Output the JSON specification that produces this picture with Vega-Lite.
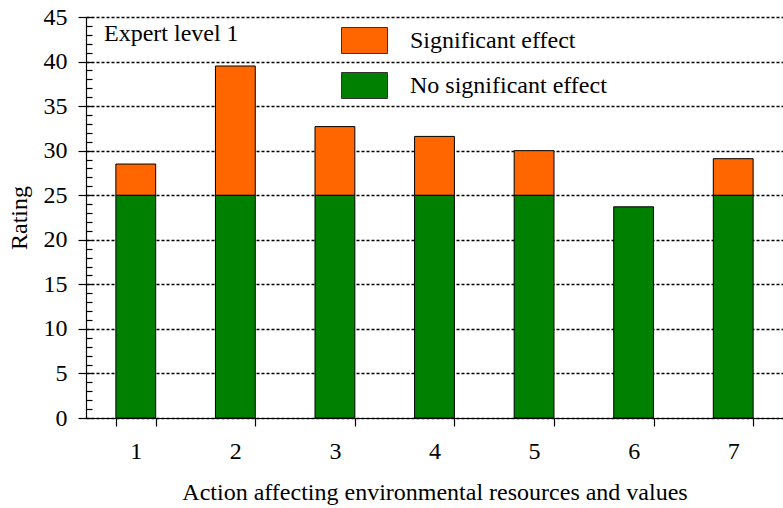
{
  "$schema": "https://vega.github.io/schema/vega-lite/v6.json",
  "width": 697,
  "height": 401,
  "autosize": {"type": "none"},
  "padding": {"left": 86, "top": 17, "right": 0, "bottom": 90},
  "background": "white",
  "title": {"text": "Expert level 1", "anchor": "start", "frame": "group", "orient": "top", "baseline": "top", "offset": 0, "dx": 18, "dy": 41, "font": "Liberation Serif", "fontSize": 24, "fontWeight": "normal", "color": "black"},
  "config": {
    "font": "Liberation Serif",
    "view": {"stroke": null},
    "legend": {"labelFont": "Liberation Serif", "labelFontSize": 24}
  },
  "data": {"values": [
    {"action": "1", "effect": "No significant effect", "value": 25, "ord": 0},
    {"action": "1", "effect": "Significant effect", "value": 3.5, "ord": 1},
    {"action": "2", "effect": "No significant effect", "value": 25, "ord": 0},
    {"action": "2", "effect": "Significant effect", "value": 14.5, "ord": 1},
    {"action": "3", "effect": "No significant effect", "value": 25, "ord": 0},
    {"action": "3", "effect": "Significant effect", "value": 7.7, "ord": 1},
    {"action": "4", "effect": "No significant effect", "value": 25, "ord": 0},
    {"action": "4", "effect": "Significant effect", "value": 6.6, "ord": 1},
    {"action": "5", "effect": "No significant effect", "value": 25, "ord": 0},
    {"action": "5", "effect": "Significant effect", "value": 5.0, "ord": 1},
    {"action": "6", "effect": "No significant effect", "value": 23.7, "ord": 0},
    {"action": "7", "effect": "No significant effect", "value": 25, "ord": 0},
    {"action": "7", "effect": "Significant effect", "value": 4.1, "ord": 1}
  ]},
  "resolve": {"axis": {"y": "independent"}},
  "layer": [
    {
      "mark": {"type": "bar", "opacity": 0},
      "encoding": {
        "x": {"field": "action", "type": "ordinal", "scale": {"paddingInner": 0.6, "paddingOuter": 0.3},
              "axis": {"title": "Action affecting environmental resources and values", "labelAngle": 0, "tickBand": "extent", "tickSize": 8, "labelPadding": 13, "titlePadding": 17, "grid": false, "labelFont": "Liberation Serif", "labelFontSize": 24, "titleFont": "Liberation Serif", "titleFontSize": 24, "titleFontWeight": "normal", "labelColor": "black", "titleColor": "black", "domainColor": "black", "tickColor": "black", "domainWidth": 1.2, "tickWidth": 1.2}},
        "y": {"field": "value", "type": "quantitative", "aggregate": "sum", "stack": "zero", "scale": {"domain": [0, 45], "nice": false},
              "axis": {"orient": "left", "values": [0,1,2,3,4,5,6,7,8,9,10,11,12,13,14,15,16,17,18,19,20,21,22,23,24,25,26,27,28,29,30,31,32,33,34,35,36,37,38,39,40,41,42,43,44,45], "labels": false, "tickSize": -6, "domain": false, "grid": false, "title": null, "tickColor": "black", "tickWidth": 1.2}},
        "order": {"field": "ord"}
      }
    },
    {
      "mark": {"type": "bar", "stroke": "black", "strokeWidth": 1},
      "encoding": {
        "x": {"field": "action", "type": "ordinal", "scale": {"paddingInner": 0.6, "paddingOuter": 0.3}},
        "y": {"field": "value", "type": "quantitative", "aggregate": "sum", "stack": "zero", "scale": {"domain": [0, 45], "nice": false},
              "axis": {"orient": "left", "title": "Rating", "values": [0,5,10,15,20,25,30,35,40,45], "tickSize": 8, "labelPadding": 11, "titlePadding": 12, "grid": true, "gridColor": "black", "gridDash": [3, 2], "gridWidth": 1.6, "labelFont": "Liberation Serif", "labelFontSize": 24, "titleFont": "Liberation Serif", "titleFontSize": 24, "titleFontWeight": "normal", "labelColor": "black", "titleColor": "black", "domainColor": "black", "tickColor": "black", "domainWidth": 1.2, "tickWidth": 1.2}},
        "color": {"field": "effect", "type": "nominal",
                  "scale": {"domain": ["Significant effect", "No significant effect"], "range": ["#ff6600", "#008000"]},
                  "legend": {"title": null, "orient": "none", "legendX": 255, "legendY": 0, "symbolType": "M-1,-0.565H1V0.565H-1Z", "symbolSize": 2116, "symbolStrokeColor": "#333", "symbolStrokeWidth": 1, "symbolOpacity": 1, "labelFont": "Liberation Serif", "labelFontSize": 24, "labelColor": "black", "labelOffset": 22, "rowPadding": 6, "labelLimit": 300}},
        "order": {"field": "ord"}
      }
    }
  ]
}
